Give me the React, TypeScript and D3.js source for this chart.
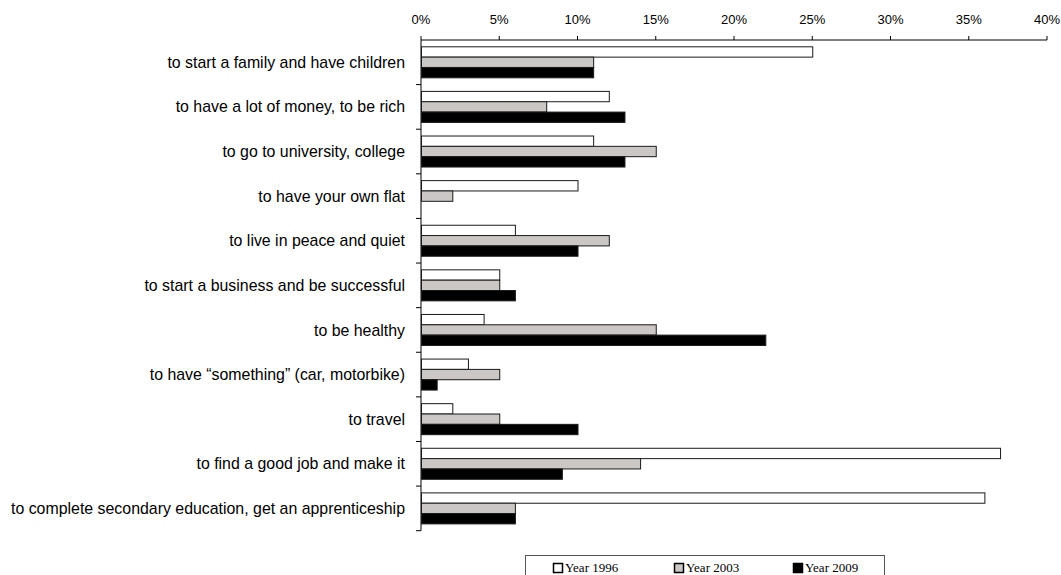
import React from "react";
import * as d3 from "d3";

const categories = [
  "to start a family and have children",
  "to have a lot of money, to be rich",
  "to go to university, college",
  "to have your own flat",
  "to live in peace and quiet",
  "to start a business and be successful",
  "to be healthy",
  "to have \u201csomething\u201d (car, motorbike)",
  "to travel",
  "to find a good job and make it",
  "to complete secondary education, get an apprenticeship",
];
const year1996 = [25, 12, 11, 10, 6, 5, 4, 3, 2, 37, 36];
const year2003 = [11, 8, 15, 2, 12, 5, 15, 5, 5, 14, 6];
const year2009 = [11, 13, 13, 0, 10, 6, 22, 1, 10, 9, 6];
const seriesNames = ["Year 1996", "Year 2003", "Year 2009"];
const seriesFill = ["#ffffff", "#cbc7c4", "#000000"];
const xTicks = [0, 5, 10, 15, 20, 25, 30, 35, 40];

export default function App() {
  const W = 1061, H = 575;
  const x0 = 421, x1 = 1047, yTop = 40, yBot = 530.7;
  const x = d3.scaleLinear().domain([0, 40]).range([x0, x1]);
  const y = d3.scaleBand<string>().domain(categories).range([yTop, yBot]);
  const bw = y.bandwidth();
  const pad = 6.8;
  const inner = d3.scaleBand<string>().domain(seriesNames).range([pad, bw - pad]);
  const series = [year1996, year2003, year2009];
  const sans = "Arial, 'Liberation Sans', sans-serif";
  const serif = "'Times New Roman', 'Liberation Serif', serif";
  const legendX = [553, 674, 793];

  return (
    <svg width={W} height={H} style={{ position: "absolute", left: 0, top: 0 }}>
      {/* top axis */}
      <line x1={x0} x2={x1} y1={yTop} y2={yTop} stroke="#000" strokeWidth={1} />
      {xTicks.map((t) => (
        <g key={t}>
          <line x1={x(t)} x2={x(t)} y1={yTop - 4} y2={yTop} stroke="#000" />
          <text x={x(t)} y={24} textAnchor="middle" fontFamily={sans} fontSize={13} fill="#000">
            {t}%
          </text>
        </g>
      ))}
      {/* left axis */}
      <line x1={x0} x2={x0} y1={yTop} y2={yBot} stroke="#000" />
      {categories.map((c, i) => (
        <line key={"t" + i} x1={x0 - 5} x2={x0} y1={(y(c) as number) + bw} y2={(y(c) as number) + bw} stroke="#000" />
      ))}
      {categories.map((c, i) => (
        <text key={"l" + i} x={405} y={(y(c) as number) + bw / 2} dy="0.35em" textAnchor="end" fontFamily={sans} fontSize={15.9} fill="#000">
          {c}
        </text>
      ))}
      {/* bars */}
      {categories.map((c, i) =>
        series.map((s, j) =>
          s[i] > 0 ? (
            <rect
              key={c + j}
              x={x(0) + 0.5}
              y={(y(c) as number) + (inner(seriesNames[j]) as number)}
              width={x(s[i]) - x(0)}
              height={inner.bandwidth()}
              fill={seriesFill[j]}
              stroke="#1a1a1a"
              strokeWidth={1}
            />
          ) : null
        )
      )}
      {/* legend */}
      <rect x={525.5} y={555.5} width={359} height={30} fill="#fff" stroke="#555" />
      {seriesNames.map((n, j) => (
        <g key={n}>
          <rect x={legendX[j] + 0.5} y={563.5} width={9} height={9} fill={seriesFill[j]} stroke="#000" strokeWidth={1.5} />
          <text x={legendX[j] + 12} y={572} fontFamily={serif} fontSize={13} fill="#000">
            {n}
          </text>
        </g>
      ))}
    </svg>
  );
}
